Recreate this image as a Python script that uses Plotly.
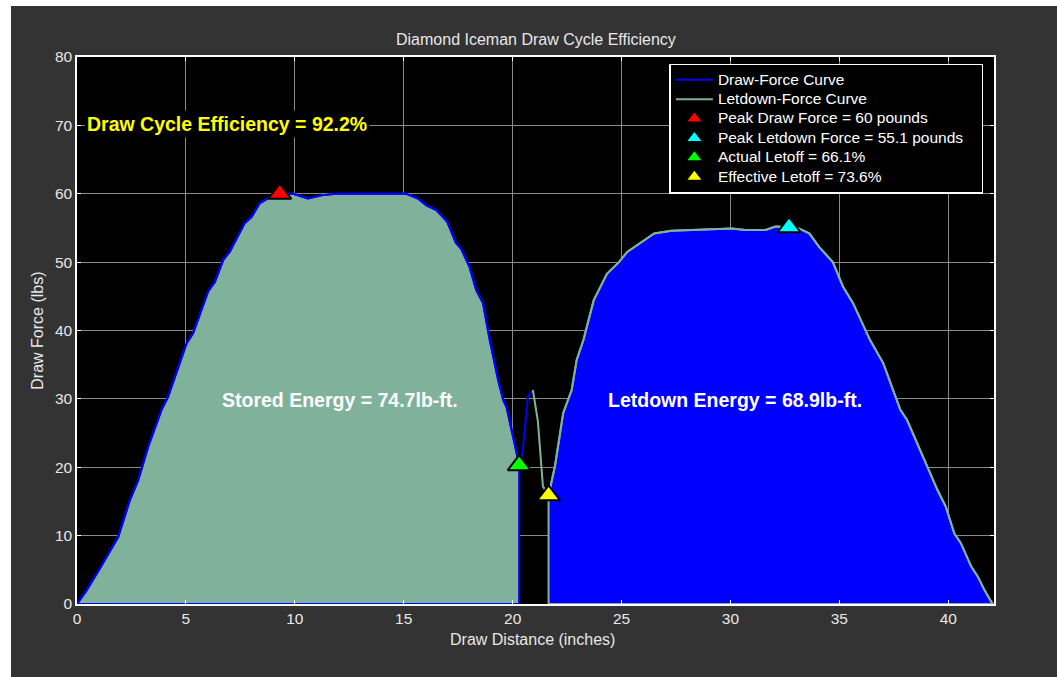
import plotly.graph_objects as go

# ---------------- data ----------------
draw_x = [0.0, 0.44, 1.05, 1.59, 1.89, 2.43, 2.81, 3.27, 3.88, 4.18, 5.03, 5.33, 6.02, 6.33,
          6.71, 7.01, 7.70, 8.01, 8.39, 8.85, 9.31, 9.92, 10.6, 11.29, 11.91, 15.12, 15.65,
          16.04, 16.5, 17.0, 17.4, 17.63, 18.02, 18.33, 18.64, 18.95, 19.34, 19.57, 19.72,
          20.19, 20.3]
draw_y = [0.0, 2.0, 5.2, 8.1, 9.8, 15.2, 18.1, 23.0, 28.4, 30.3, 38.1, 39.6, 45.7, 47.1,
          50.3, 51.5, 55.7, 56.6, 58.6, 59.5, 60.0, 60.0, 59.3, 59.8, 60.0, 60.0, 59.3,
          58.3, 57.6, 55.9, 52.8, 52.0, 49.3, 45.9, 44.0, 38.6, 32.7, 29.8, 28.8,
          22.0, 20.3]
# draw curve continues past the letoff point (not part of the stored-energy area)
draw_tail_x = [20.45, 20.7, 20.93]
draw_tail_y = [22.0, 30.3, 31.3]

letdown_x = [20.93, 21.16, 21.39, 21.65, 21.94, 22.32, 22.71, 22.94, 23.25, 23.72, 24.33,
             24.88, 25.26, 25.88, 26.5, 27.28, 28.2, 29.29, 30.06, 30.68, 31.61, 32.07,
             32.69, 33.16, 33.62, 34.08, 34.7, 35.17, 35.63, 36.41, 37.02, 37.41, 37.8,
             38.11, 38.58, 39.04, 39.5, 39.89, 40.28, 40.58, 41.05, 41.36, 41.67, 41.98, 42.05]
letdown_y = [31.3, 26.7, 17.2, 15.9, 20.1, 27.9, 31.3, 35.7, 38.6, 44.4, 48.3,
             50.0, 51.5, 52.9, 54.2, 54.6, 54.7, 54.9, 54.9, 54.7, 54.7, 55.2,
             55.1, 54.9, 54.2, 52.2, 50.0, 46.4, 44.0, 38.6, 35.2, 31.8, 28.4,
             26.9, 23.5, 20.1, 16.7, 14.2, 10.3, 8.9, 5.5, 4.0, 2.0, 0.3, 0.0]
letdown_start = 3  # index where the letdown energy area begins

peak_draw = (9.31, 60.0)
peak_letdown = (32.69, 55.1)
actual_letoff = (20.3, 20.3)
effective_letoff = (21.65, 15.9)

legend_names = ["Draw-Force Curve", "Letdown-Force Curve", "Peak Draw Force = 60 pounds",
                "Peak Letdown Force = 55.1 pounds", "Actual Letoff = 66.1%",
                "Effective Letoff = 73.6%"]
x_ticks = [0, 5, 10, 15, 20, 25, 30, 35, 40]
y_ticks = [0, 10, 20, 30, 40, 50, 60, 70, 80]

# ---------------- styles ----------------
BLUE = "#0000ff"
SAGE = "#80b19b"
FONT = "Liberation Sans, Arial, sans-serif"
TXT = "#e8e8e8"


def leg(name):
    # larger text than the legend's base font keeps the tighter MATLAB row spacing
    return "<span style='font-size:15.5px'>" + name + "&nbsp;&nbsp;&nbsp;</span>"


fig = go.Figure()

# stored-energy area (under draw curve)
fx = draw_x + [draw_x[-1], draw_x[0]]
fy = draw_y + [0.0, 0.0]
fig.add_trace(go.Scatter(x=fx, y=fy, mode="lines", fill="toself", fillcolor=SAGE,
                         line=dict(color=BLUE, width=2), showlegend=False, hoverinfo="skip"))

# letdown-energy area
lx = [letdown_x[letdown_start]] + letdown_x[letdown_start:] + [letdown_x[letdown_start]]
ly = [0.0] + letdown_y[letdown_start:] + [0.0]
fig.add_trace(go.Scatter(x=lx, y=ly, mode="lines", fill="toself", fillcolor=BLUE,
                         line=dict(color=SAGE, width=2), showlegend=False, hoverinfo="skip"))

# curves
fig.add_trace(go.Scatter(x=draw_x + draw_tail_x, y=draw_y + draw_tail_y, mode="lines",
                         line=dict(color=BLUE, width=2), name=leg(legend_names[0])))
fig.add_trace(go.Scatter(x=letdown_x, y=letdown_y, mode="lines",
                         line=dict(color=SAGE, width=2), name=leg(legend_names[1])))

# markers on plot
pts = [peak_draw, peak_letdown, actual_letoff, effective_letoff]
cols = ["#ff0000", "#00ffff", "#00ff00", "#ffff00"]
for (px, py), c, nm in zip(pts, cols, legend_names[2:]):
    fig.add_trace(go.Scatter(x=[px], y=[py], mode="markers", showlegend=False,
                             marker=dict(symbol="triangle-up", size=20, color=c,
                                         line=dict(color="black", width=2)),
                             name=nm))
# legend entries for markers (smaller symbols, like the reference legend)
for c, nm in zip(cols, legend_names[2:]):
    fig.add_trace(go.Scatter(x=[None], y=[None], mode="markers", name=leg(nm),
                             marker=dict(symbol="triangle-up", size=12, color=c)))

# text annotations
fig.add_annotation(x=0.3, y=70.2, xref="x", yref="y", xanchor="left", yanchor="middle",
                   text="<b>Draw Cycle Efficiency = 92.2%</b>", showarrow=False,
                   font=dict(family=FONT, size=19.5, color="#ffff00"), bgcolor="black",
                   borderpad=2)
fig.add_annotation(x=12.09, y=29.8, xref="x", yref="y", text="<b>Stored Energy = 74.7lb-ft.</b>",
                   showarrow=False, font=dict(family=FONT, size=19.5, color="white"))
fig.add_annotation(x=30.23, y=29.8, xref="x", yref="y", text="<b>Letdown Energy = 68.9lb-ft.</b>",
                   showarrow=False, font=dict(family=FONT, size=19.5, color="white"))

# title and axis titles
fig.add_annotation(x=0.5, y=1.032, xref="paper", yref="paper", yanchor="middle",
                   text="Diamond Iceman Draw Cycle Efficiency", showarrow=False,
                   font=dict(family=FONT, size=16, color=TXT))
fig.add_annotation(x=0.497, y=-0.064, xref="paper", yref="paper", yanchor="middle",
                   text="Draw Distance (inches)", showarrow=False,
                   font=dict(family=FONT, size=16, color=TXT))
fig.add_annotation(x=-0.0434, y=0.5, xref="paper", yref="paper", xanchor="center",
                   yanchor="middle", textangle=-90, text="Draw Force (lbs)", showarrow=False,
                   font=dict(family=FONT, size=16, color=TXT))

# white page strips at left/top (figure border of the reference)
fig.add_shape(type="rect", xref="paper", yref="paper", x0=-0.09, x1=-0.07197, y0=-0.2, y1=1.2,
              fillcolor="white", line=dict(width=0), layer="above")
fig.add_shape(type="rect", xref="paper", yref="paper", x0=-0.1, x1=1.2, y0=1.0932, y1=1.2,
              fillcolor="white", line=dict(width=0), layer="above")

axis_common = dict(showgrid=True, gridcolor="#8a8a8a", gridwidth=1, zeroline=False,
                   showline=True, linecolor="white", linewidth=1.5, mirror="ticks",
                   ticks="inside", ticklen=4, tickcolor="white",
                   tickfont=dict(family=FONT, size=15.5, color=TXT))

fig.update_layout(
    width=1057, height=677,
    margin=dict(l=77, r=63, t=57, b=73),
    paper_bgcolor="#333333", plot_bgcolor="black",
    showlegend=True,
    legend=dict(x=0.646, y=0.988, xanchor="left", yanchor="top", bgcolor="black",
                bordercolor="white", borderwidth=1.5, itemwidth=37,
                font=dict(family=FONT, size=12.6, color="white"),
                tracegroupgap=0),
    xaxis=dict(range=[0, 42.1], tickvals=x_ticks, **axis_common),
    yaxis=dict(range=[0, 80], tickvals=y_ticks, **axis_common),
)

fig.write_html("out.html", config={"displayModeBar": False},
               post_script="document.body.style.margin='0px';")
